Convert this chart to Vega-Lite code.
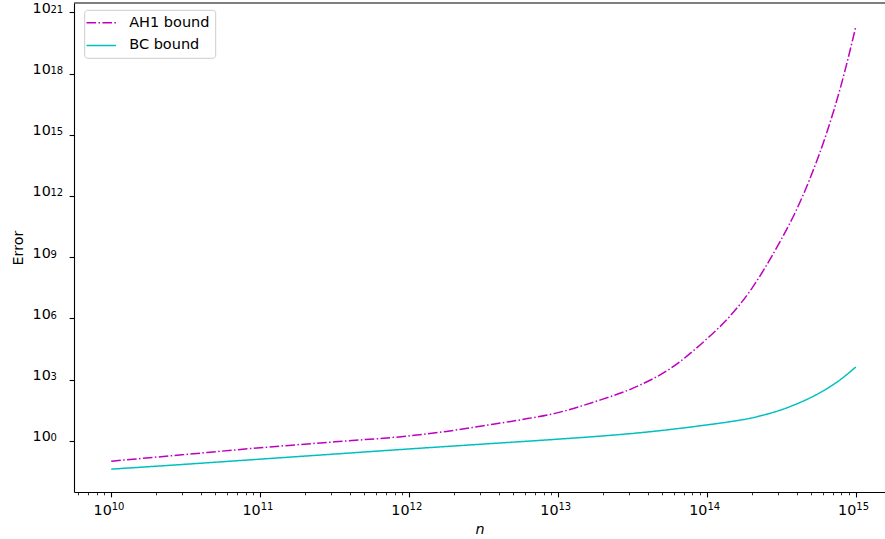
{
  "$schema": "https://vega.github.io/schema/vega-lite/v6.json",
  "width": 811,
  "height": 489,
  "autosize": {"type": "none"},
  "padding": {"left": 74, "top": 3, "right": 0, "bottom": 47},
  "background": "white",
  "config": {
    "view": {"stroke": null},
    "font": "DejaVu Sans",
    "axis": {"grid": false, "domainColor": "black", "domainWidth": 1.1, "tickColor": "black", "labelColor": "black", "titleColor": "black", "labelFont": "DejaVu Sans", "titleFont": "DejaVu Sans"},
    "legend": {
      "orient": "none",
      "legendX": 10.2,
      "legendY": 6.8,
      "fillColor": "rgba(255,255,255,0.8)",
      "strokeColor": "#cccccc",
      "cornerRadius": 3,
      "padding": 5,
      "labelFontSize": 14.5,
      "labelColor": "black",
      "labelFont": "DejaVu Sans",
      "symbolType": "M-2.1,0H2.1",
      "symbolSize": 196,
      "symbolStrokeWidth": 1.5,
      "symbolFillColor": "transparent",
      "symbolOffset": 4,
      "rowPadding": 7.6,
      "labelOffset": 20
    }
  },
  "datasets": {
    "curves": [
      {"series": "AH1 bound", "n": 1e10, "error": 0.1},
      {"series": "AH1 bound", "n": 3.162e10, "error": 0.2138},
      {"series": "AH1 bound", "n": 1e11, "error": 0.4571},
      {"series": "AH1 bound", "n": 3.162e11, "error": 0.8913},
      {"series": "AH1 bound", "n": 1e12, "error": 1.738},
      {"series": "AH1 bound", "n": 1.778e12, "error": 2.884},
      {"series": "AH1 bound", "n": 3.162e12, "error": 5.495},
      {"series": "AH1 bound", "n": 5.623e12, "error": 10.72},
      {"series": "AH1 bound", "n": 1e13, "error": 23.99},
      {"series": "AH1 bound", "n": 1.778e13, "error": 83.18},
      {"series": "AH1 bound", "n": 3.162e13, "error": 371.5},
      {"series": "AH1 bound", "n": 5.623e13, "error": 3311},
      {"series": "AH1 bound", "n": 1e14, "error": 1e5},
      {"series": "AH1 bound", "n": 1.413e14, "error": 1.175e6},
      {"series": "AH1 bound", "n": 1.995e14, "error": 2.818e7},
      {"series": "AH1 bound", "n": 2.512e14, "error": 3.981e8},
      {"series": "AH1 bound", "n": 3.162e14, "error": 7.586e9},
      {"series": "AH1 bound", "n": 3.981e14, "error": 1.995e11},
      {"series": "AH1 bound", "n": 5.012e14, "error": 1e13},
      {"series": "AH1 bound", "n": 6.31e14, "error": 1e15},
      {"series": "AH1 bound", "n": 7.943e14, "error": 2.512e17},
      {"series": "AH1 bound", "n": 1e15, "error": 1.995e20},
      {"series": "BC bound", "n": 1e10, "error": 0.04074},
      {"series": "BC bound", "n": 3.162e10, "error": 0.0708},
      {"series": "BC bound", "n": 1e11, "error": 0.1259},
      {"series": "BC bound", "n": 3.162e11, "error": 0.2239},
      {"series": "BC bound", "n": 1e12, "error": 0.3981},
      {"series": "BC bound", "n": 3.162e12, "error": 0.6918},
      {"series": "BC bound", "n": 1e13, "error": 1.202},
      {"series": "BC bound", "n": 1.778e13, "error": 1.622},
      {"series": "BC bound", "n": 3.162e13, "error": 2.291},
      {"series": "BC bound", "n": 5.623e13, "error": 3.548},
      {"series": "BC bound", "n": 1e14, "error": 6.026},
      {"series": "BC bound", "n": 1.413e14, "error": 8.511},
      {"series": "BC bound", "n": 1.995e14, "error": 13.18},
      {"series": "BC bound", "n": 2.512e14, "error": 19.95},
      {"series": "BC bound", "n": 3.162e14, "error": 33.11},
      {"series": "BC bound", "n": 3.981e14, "error": 63.1},
      {"series": "BC bound", "n": 5.012e14, "error": 134.9},
      {"series": "BC bound", "n": 6.31e14, "error": 338.8},
      {"series": "BC bound", "n": 7.943e14, "error": 1047},
      {"series": "BC bound", "n": 1e15, "error": 4169}
    ]
  },
  "layer": [
    {
      "data": {"name": "curves"},
      "transform": [{"filter": "datum.series === 'AH1 bound'"}],
      "mark": {"type": "line", "strokeWidth": 1.5, "interpolate": "monotone", "clip": true},
      "encoding": {
        "x": {
          "field": "n",
          "type": "quantitative",
          "scale": {"type": "log", "domain": [5.623e9, 1.57e15], "nice": false},
          "axis": {
            "orient": "bottom",
            "values": [1e10, 1e11, 1e12, 1e13, 1e14, 1e15],
            "labelExpr": "'10'",
            "labelAlign": "right",
            "labelBaseline": "alphabetic",
            "labelDx": 0.5,
            "tickSize": 4.9,
            "tickWidth": 1.1,
            "labelFontSize": 14.3,
            "labelPadding": 17.2,
            "labelFlush": false,
            "labelOverlap": false,
            "title": "n",
            "titleFontSize": 14.3,
            "titleFontStyle": "italic",
            "titleFontWeight": "normal",
            "titlePadding": 5
          }
        },
        "y": {
          "field": "error",
          "type": "quantitative",
          "scale": {"type": "log", "domain": [0.00309, 2.884e21], "nice": false},
          "axis": {
            "orient": "left",
            "values": [1, 1e3, 1e6, 1e9, 1e12, 1e15, 1e18, 1e21],
            "labelExpr": "'10'",
            "labelAlign": "right",
            "labelBaseline": "alphabetic",
            "labelDy": 5,
            "tickSize": 4.9,
            "tickWidth": 1.1,
            "labelFontSize": 14.3,
            "labelPadding": 18.8,
            "labelFlush": false,
            "labelOverlap": false,
            "title": "Error",
            "titleFontSize": 14.3,
            "titleFontWeight": "normal",
            "titlePadding": 7
          }
        },
        "color": {
          "field": "series",
          "type": "nominal",
          "scale": {"domain": ["AH1 bound", "BC bound"], "range": ["#bf00bf", "#00bfbf"]},
          "legend": {"title": null}
        },
        "strokeDash": {
          "field": "series",
          "type": "nominal",
          "scale": {"domain": ["AH1 bound", "BC bound"], "range": [[9.6, 2.4, 1.5, 2.4], [1, 0]]},
          "legend": {"title": null}
        }
      }
    },
    {
      "data": {"name": "curves"},
      "transform": [{"filter": "datum.series === 'BC bound'"}],
      "mark": {"type": "line", "strokeWidth": 1.5, "interpolate": "monotone", "clip": true},
      "encoding": {
        "x": {
          "field": "n",
          "type": "quantitative",
          "scale": {"type": "log", "domain": [5.623e9, 1.57e15], "nice": false},
          "axis": {
            "orient": "bottom",
            "values": [6e9, 7e9, 8e9, 9e9, 2e10, 3e10, 4e10, 5e10, 6e10, 7e10, 8e10, 9e10, 2e11, 3e11, 4e11, 5e11, 6e11, 7e11, 8e11, 9e11, 2e12, 3e12, 4e12, 5e12, 6e12, 7e12, 8e12, 9e12, 2e13, 3e13, 4e13, 5e13, 6e13, 7e13, 8e13, 9e13, 2e14, 3e14, 4e14, 5e14, 6e14, 7e14, 8e14, 9e14],
            "labels": false,
            "domain": false,
            "tickSize": 2.8,
            "tickWidth": 0.8,
            "title": null
          }
        },
        "y": {
          "field": "error",
          "type": "quantitative",
          "axis": {
            "orient": "left",
            "values": [1, 1e3, 1e6, 1e9, 1e12, 1e15, 1e18, 1e21],
            "labelExpr": "format(round(log(datum.value)/LN10), 'd')",
            "labelAlign": "left",
            "labelBaseline": "alphabetic",
            "labelDy": -0.3,
            "ticks": false,
            "domain": false,
            "labelFontSize": 10,
            "labelPadding": 24,
            "labelFlush": false,
            "labelOverlap": false,
            "title": null
          }
        },
        "color": {"field": "series", "type": "nominal", "legend": {"title": null}},
        "strokeDash": {"field": "series", "type": "nominal", "legend": {"title": null}}
      }
    },
    {
      "data": {"name": "curves"},
      "transform": [{"filter": "datum.series === 'BC bound'"}],
      "mark": {"type": "point", "opacity": 0, "clip": true},
      "encoding": {
        "x": {
          "field": "n",
          "type": "quantitative",
          "scale": {"type": "log", "domain": [5.623e9, 1.57e15], "nice": false},
          "axis": {
            "orient": "bottom",
            "values": [1e10, 1e11, 1e12, 1e13, 1e14, 1e15],
            "labelExpr": "format(round(log(datum.value)/LN10), 'd')",
            "labelAlign": "left",
            "labelBaseline": "alphabetic",
            "labelDx": -1.5,
            "ticks": false,
            "domain": false,
            "labelFontSize": 10,
            "labelPadding": 17.4,
            "labelFlush": false,
            "labelOverlap": false,
            "title": null
          }
        },
        "y": {"field": "error", "type": "quantitative", "axis": null}
      }
    },
    {
      "data": {"values": [{"top": 2.884e21}]},
      "mark": {"type": "rule", "color": "black", "strokeWidth": 1.1},
      "encoding": {"y": {"field": "top", "type": "quantitative", "axis": null}}
    }
  ],
  "resolve": {"axis": {"x": "independent", "y": "independent"}}
}
